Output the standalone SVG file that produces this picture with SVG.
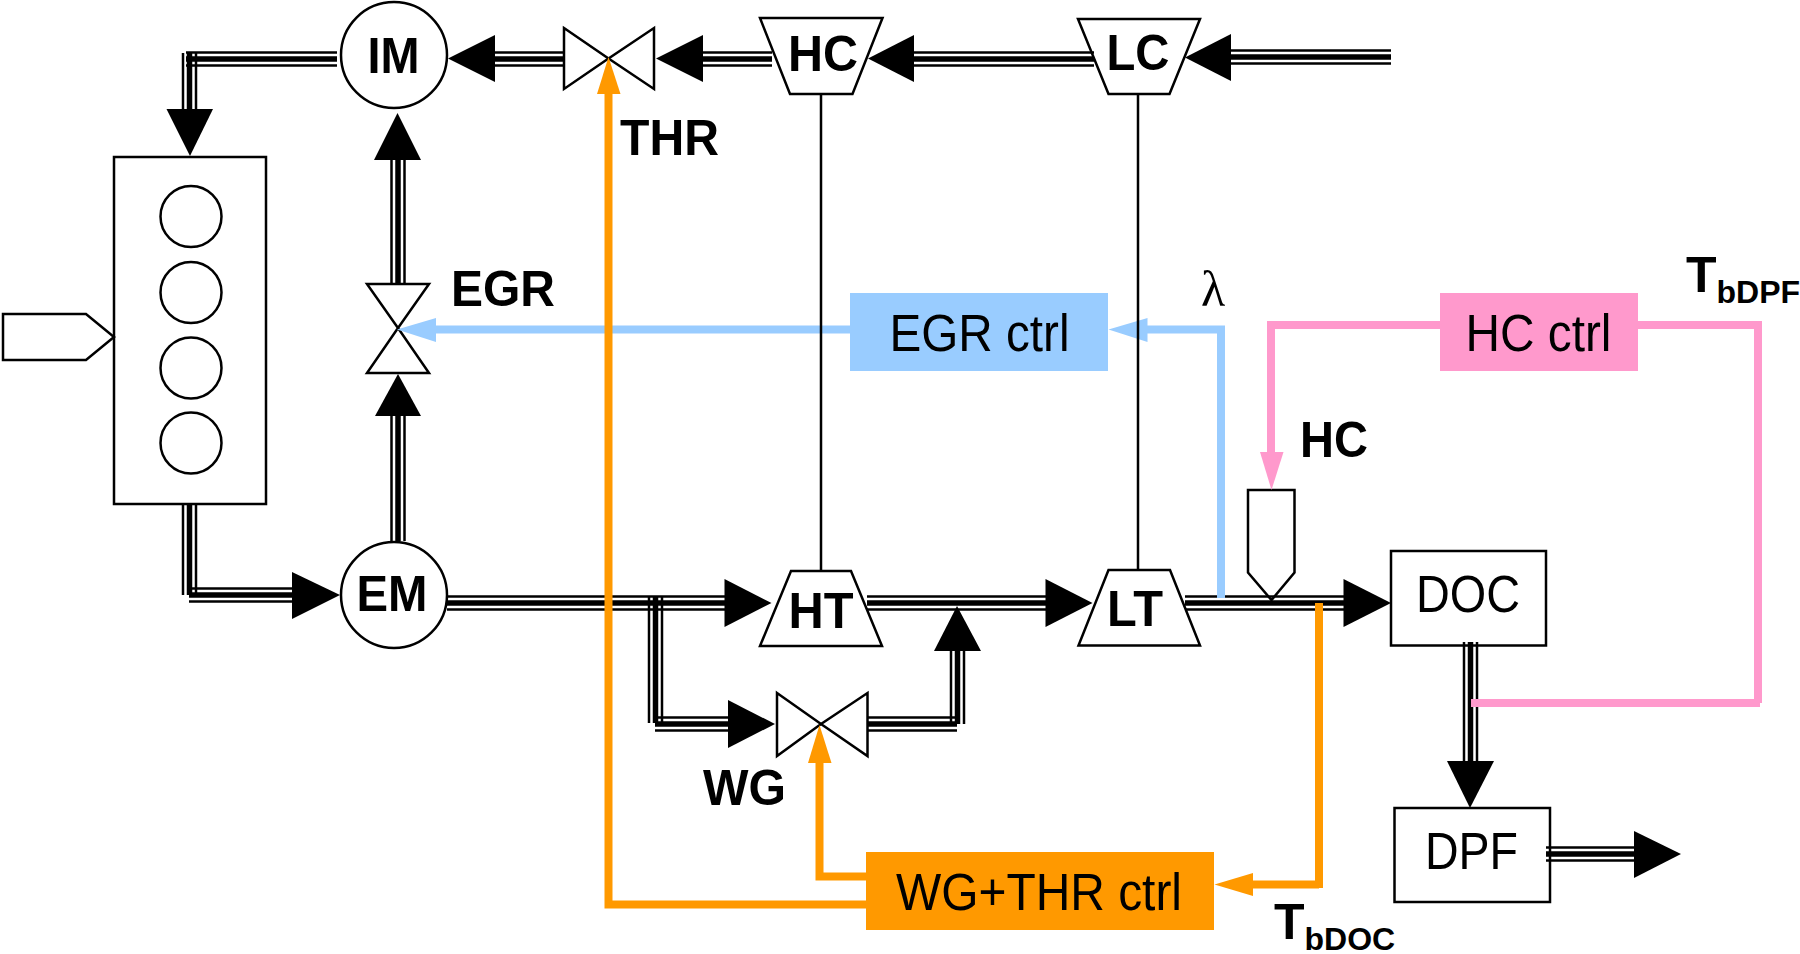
<svg xmlns="http://www.w3.org/2000/svg" width="1800" height="954" viewBox="0 0 1800 954">
<style>
.n{fill:#fff;stroke:#000;stroke-width:2.5}
text{font-family:"Liberation Sans",Arial,sans-serif;fill:#000;font-size:51px}
.b{font-weight:700;font-size:50px}
.m{text-anchor:middle}
.s{font-size:32px}
.ah{fill:#000;stroke:none}
.shaft{stroke:#000;stroke-width:2.5;fill:none}
.blue{stroke:#99ccff;stroke-width:8;fill:none}
.orange{stroke:#ff9900;stroke-width:8;fill:none}
.pink{stroke:#ff99cc;stroke-width:8;fill:none}
.thin{stroke:#000;stroke-width:2.500}
.thick{stroke:#000;stroke-width:5.500}
</style>
<defs>
<g id="hp" fill="none">
<path d="M337 59H186"/>
<path d="M495 59H564"/><path d="M703 59H772"/><path d="M914 59H1094"/><path d="M1231 57H1391"/>
<path d="M189 595H292"/>
<path d="M655 724H728"/>
<path d="M867 724H957"/>
<path d="M447 603H725"/><path d="M867 603H1046"/><path d="M1185 603H1344"/>
<path d="M1546 854H1634"/>
</g>
<g id="vp" fill="none">
<path d="M189.500 53V109"/>
<path d="M398 160V283"/><path d="M398 416V541"/>
<path d="M189.500 503V595"/>
<path d="M655.500 597V723"/>
<path d="M957.500 651V724"/>
<path d="M1470.500 642V761"/>
</g>
</defs>
<g id="engine"><rect class="n" x="114" y="157" width="152" height="347"/>
<circle class="n" cx="191" cy="216.500" r="30.500"/><circle class="n" cx="191" cy="292.500" r="30.500"/><circle class="n" cx="191" cy="368" r="30.500"/><circle class="n" cx="191" cy="443" r="30.500"/></g>
<g id="input"><polygon class="n" points="3,314 86,314 114,337 86,360 3,360"/></g>
<g id="IM"><circle class="n" cx="394" cy="55" r="53"/><text class="b m" x="393.500" y="73" textLength="52" lengthAdjust="spacingAndGlyphs">IM</text></g>
<g id="EM"><circle class="n" cx="394" cy="595" r="53"/><text class="b m" x="392" y="611" textLength="71" lengthAdjust="spacingAndGlyphs">EM</text></g>
<g id="THR"><polygon class="n" points="564,28 608.500,58.500 654,28 654,89 608.500,58.500 564,89"/><text class="b" x="620" y="155" textLength="99" lengthAdjust="spacingAndGlyphs">THR</text></g>
<g id="EGR"><polygon class="n" points="367,284 429,284 398,328 429,373 367,373 398,328"/><text class="b" x="451" y="306" textLength="104" lengthAdjust="spacingAndGlyphs">EGR</text></g>
<g id="WG"><polygon class="n" points="777,693 821,724 867.500,693 867.500,756 821,724 777,756"/><text class="b" x="703" y="805" textLength="83" lengthAdjust="spacingAndGlyphs">WG</text></g>
<g id="HC"><polygon class="n" points="760,18 882.500,18 852.500,94 790,94"/><text class="b m" x="823" y="70.500" textLength="70" lengthAdjust="spacingAndGlyphs">HC</text></g>
<g id="LC"><polygon class="n" points="1078,19 1200,19 1169.500,94 1108.500,94"/><text class="b m" x="1138" y="69.500" textLength="63" lengthAdjust="spacingAndGlyphs">LC</text></g>
<g id="HT"><polygon class="n" points="791,571 851,571 882,646 760,646"/><text class="b m" x="821" y="628" textLength="65" lengthAdjust="spacingAndGlyphs">HT</text></g>
<g id="LT"><polygon class="n" points="1108.500,570 1170,570 1200,645.500 1078.500,645.500"/><text class="b m" x="1135" y="626" textLength="56" lengthAdjust="spacingAndGlyphs">LT</text></g>
<g id="EGRctrl"><rect x="850" y="293" width="258" height="78" fill="#99ccff"/><text class="m" x="979.500" y="350.500" textLength="180" lengthAdjust="spacingAndGlyphs">EGR ctrl</text></g>
<g id="HCctrl"><rect x="1440" y="293" width="198" height="78" fill="#ff99cc"/><text class="m" x="1538.500" y="350.500" textLength="146" lengthAdjust="spacingAndGlyphs">HC ctrl</text></g>
<g id="WGctrl"><rect x="866" y="852" width="348" height="78" fill="#ff9900"/><text class="m" x="1039" y="909.500" textLength="286" lengthAdjust="spacingAndGlyphs">WG+THR ctrl</text></g>
<g id="DOC"><rect class="n" x="1391" y="551" width="155" height="94.500"/><text class="m" x="1468" y="612" textLength="104" lengthAdjust="spacingAndGlyphs">DOC</text></g>
<g id="DPF"><rect class="n" x="1394.500" y="808" width="155.500" height="94"/><text class="m" x="1471.500" y="869" textLength="93" lengthAdjust="spacingAndGlyphs">DPF</text></g>
<g id="injector"><polygon class="n" points="1248,490 1294.500,490 1294.500,572.500 1271.500,600 1248,572.500"/><text class="b" x="1300" y="457" textLength="68" lengthAdjust="spacingAndGlyphs">HC</text></g>
<g id="labels">
<text x="1201" y="306" style="font-family:'Liberation Serif',serif;font-size:50px">λ</text>
<text class="b" x="1686" y="291.500">T<tspan class="s" dy="11">bDPF</tspan></text>
<text class="b" x="1274" y="939">T<tspan class="s" dy="11">bDOC</tspan></text>
</g>
<g id="connectors">
<use href="#hp" class="thin" y="-6.500"/><use href="#hp" class="thick"/><use href="#hp" class="thin" y="6.500"/>
<use href="#vp" class="thin" x="-6.500"/><use href="#vp" class="thick"/><use href="#vp" class="thin" x="6.500"/>
<polygon class="ah" points="166.500,109 213,109 190,156"/>
<polygon class="ah" points="448,58.500 495,35 495,82"/>
<polygon class="ah" points="656,58.500 703,35 703,82"/>
<polygon class="ah" points="868,58.500 914,35 914,82"/>
<polygon class="ah" points="1185,57.500 1231,34 1231,81"/>
<polygon class="ah" points="397.500,113 421,160 374,160"/>
<polygon class="ah" points="398,374 421,416 375,416"/>
<polygon class="ah" points="292,572 340,595 292,619"/>
<polygon class="ah" points="724.500,579 771.500,603 724.500,627"/>
<polygon class="ah" points="728,700 775,724 728,748"/>
<polygon class="ah" points="957,606 981,651 934,651"/>
<polygon class="ah" points="1045.500,579 1092.500,603 1045.500,627"/>
<polygon class="ah" points="1343.500,579 1391,603 1343.500,627"/>
<polygon class="ah" points="1447,761 1494,761 1470,808"/>
<polygon class="ah" points="1634,831 1681,854 1634,878"/>
<path class="blue" d="M850 329.500H436M1147 329.500H1221M1221 325.500V598"/>
<polygon points="397,329.500 436,318 436,342" fill="#99ccff"/>
<polygon points="1108.500,329.500 1147.500,318 1147.500,342" fill="#99ccff"/>
<path class="shaft" d="M821 94V570M1138 94V570"/>
<path class="orange" d="M608.500 94V904.500H866M819.500 763V876.500H866M1252 884.500H1319M1319 603V888"/>
<polygon points="608.500,57 620.500,94 597,94" fill="#ff9900"/>
<polygon points="819.500,725 831.500,763 808,763" fill="#ff9900"/>
<polygon points="1214.500,884.500 1253,873 1253,896" fill="#ff9900"/>
<path class="pink" d="M1440 325H1272M1271 321V452M1638 325H1758M1758 321V703M1760 703H1471"/>
<polygon points="1271.500,490 1283.500,452 1260,452" fill="#ff99cc"/>
</g>
</svg>
